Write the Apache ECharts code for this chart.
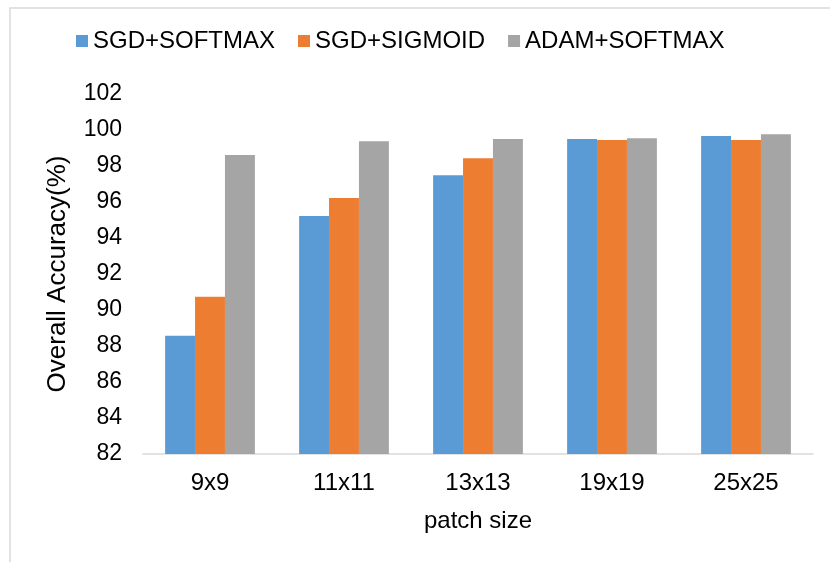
<!DOCTYPE html>
<html>
<head>
<meta charset="utf-8">
<script src="https://cdn.jsdelivr.net/npm/echarts@6/dist/echarts.min.js"></script>
<style>
  html, body { margin: 0; padding: 0; background: #fff; }
  #chart { width: 830px; height: 562px; }
</style>
</head>
<body>
<div id="chart"></div>
<script>
// Patch sizes compared
const categories = ['9x9', '11x11', '13x13', '19x19', '25x25'];

// Overall accuracy (%) per optimizer / output activation
const sgdSoftmax = [88.57, 95.22, 97.48, 99.50, 99.67];
const sgdSigmoid = [90.74, 96.22, 98.43, 99.44, 99.44];
const adamSoftmax = [98.61, 99.37, 99.50, 99.54, 99.76];

const seriesNames = ['SGD+SOFTMAX', 'SGD+SIGMOID', 'ADAM+SOFTMAX'];
const seriesColors = ['#5B9BD5', '#ED7D31', '#A5A5A5'];

// Y-axis range and step
const yMin = 82;
const yMax = 102;
const yStep = 2;

const FONT = '"Liberation Sans", Arial, sans-serif';

const chart = echarts.init(document.getElementById('chart'), null, { renderer: 'canvas' });

const seriesData = [sgdSoftmax, sgdSigmoid, adamSoftmax];

chart.setOption({
  animation: false,
  backgroundColor: '#fff',
  textStyle: { fontFamily: FONT, color: '#000' },
  graphic: [{
    type: 'rect',
    shape: { x: 10, y: 8, width: 1000, height: 1000 },
    style: { fill: 'none', stroke: '#d9d9d9', lineWidth: 1.5 },
    silent: true
  }],
  legend: {
    left: 76,
    top: 29,
    padding: 0,
    icon: 'rect',
    itemWidth: 12,
    itemHeight: 12,
    itemGap: 23,
    textStyle: { fontFamily: FONT, fontSize: 24, color: '#000' },
    data: seriesNames
  },
  grid: { left: 143, right: 17, top: 94, bottom: 108 },
  xAxis: {
    type: 'category',
    data: categories,
    name: 'patch size',
    nameLocation: 'middle',
    nameGap: 55,
    nameTextStyle: { fontFamily: FONT, fontSize: 24, color: '#000' },
    axisLine: { lineStyle: { color: '#d9d9d9', width: 1.5 } },
    axisTick: { show: false },
    axisLabel: { fontFamily: FONT, fontSize: 24, color: '#000', margin: 17 }
  },
  yAxis: {
    type: 'value',
    min: yMin,
    max: yMax,
    interval: yStep,
    name: 'Overall Accuracy(%)',
    nameLocation: 'middle',
    nameRotate: 90,
    nameGap: 72,
    nameTextStyle: { fontFamily: FONT, fontSize: 26, color: '#000' },
    axisLine: { show: false },
    axisTick: { show: false },
    splitLine: { show: false },
    axisLabel: { fontFamily: FONT, fontSize: 23, color: '#000', margin: 21 }
  },
  series: seriesNames.map((name, i) => ({
    name: name,
    type: 'bar',
    data: seriesData[i],
    barGap: '0%',
    barCategoryGap: '33%',
    itemStyle: { color: seriesColors[i] }
  }))
});
</script>
</body>
</html>
